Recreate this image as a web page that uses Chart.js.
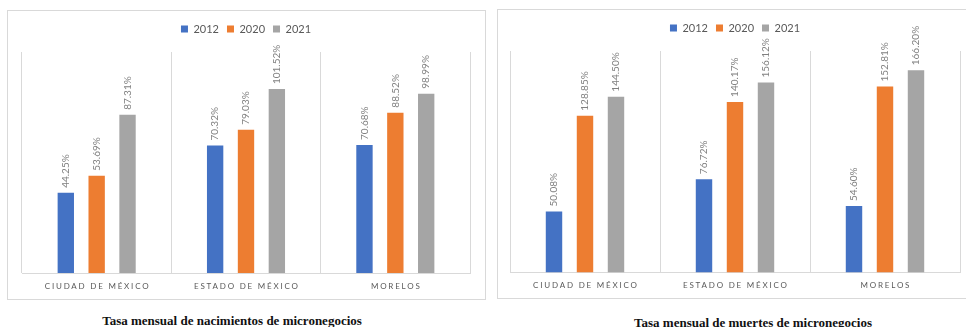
<!DOCTYPE html>
<html>
<head>
<meta charset="utf-8">
<script src="https://cdn.jsdelivr.net/npm/chart.js@4/dist/chart.umd.min.js"></script>
<style>
    html, body { margin: 0; padding: 0; background: #ffffff; }
    body { width: 966px; height: 327px; position: relative; overflow: hidden; }
    .box {
        position: absolute;
        box-sizing: border-box;
        width: 479px;
        height: 290px;
        border: 1px solid #d9d9d9;
    }
    .box canvas { display: block; }
    .caption {
        position: absolute;
        font-family: "Liberation Serif", "Times New Roman", serif;
        font-weight: bold;
        font-size: 13px;
        color: #111111;
        white-space: nowrap;
        transform: translate(-50%, -50%);
    }
</style>
</head>
<body>
<div class="box" id="boxBirths" style="left:7px; top:10px;"><canvas id="births" width="477" height="288"></canvas></div>
<div class="box" id="boxDeaths" style="left:497px; top:9px;"><canvas id="deaths" width="477" height="288"></canvas></div>
<div class="caption" style="left:232px; top:321px;">Tasa mensual de nacimientos de micronegocios</div>
<div class="caption" style="left:753px; top:323px;">Tasa mensual de muertes de micronegocios</div>

<script>
// Valeurs (en %)
const categories = ["CIUDAD DE MÉXICO", "ESTADO DE MÉXICO", "MORELOS"];
const years = ["2012", "2020", "2021"];
const yearColors = ["#4472c4", "#ed7d31", "#a5a5a5"];

const births2012 = [44.25, 70.32, 70.68];
const births2020 = [53.69, 79.03, 88.52];
const births2021 = [87.31, 101.52, 98.99];

const deaths2012 = [50.08, 76.72, 54.60];
const deaths2020 = [128.85, 140.17, 152.81];
const deaths2021 = [144.50, 156.12, 166.20];

// étiquettes verticales au-dessus de chaque barre
const valueLabels = {
    id: "valueLabels",
    afterDatasetsDraw(chart) {
        const ctx = chart.ctx;
        ctx.save();
        ctx.font = "10px Lato";
        ctx.fillStyle = "#808080";
        ctx.textAlign = "left";
        ctx.textBaseline = "middle";
        chart.data.datasets.forEach((ds, i) => {
            chart.getDatasetMeta(i).data.forEach((bar, j) => {
                ctx.save();
                ctx.translate(bar.x, bar.y - 5);
                ctx.rotate(-Math.PI / 2);
                ctx.fillText(ds.data[j].toFixed(2) + "%", 0, 0);
                ctx.restore();
            });
        });
        ctx.restore();
    },
};

// noms des catégories, espacés comme dans Excel
const categoryLabels = {
    id: "categoryLabels",
    afterDraw(chart) {
        const ctx = chart.ctx;
        const xScale = chart.scales.x;
        const spacing = 1.8;
        ctx.save();
        ctx.font = "8px Lato";
        ctx.fillStyle = "#595959";
        ctx.letterSpacing = spacing + "px";
        ctx.textAlign = "center";
        ctx.textBaseline = "middle";
        chart.data.labels.forEach((label, j) => {
            const x = xScale.getPixelForValue(j) + spacing / 2;
            ctx.fillText(label, x, chart.chartArea.bottom + 13);
        });
        ctx.restore();
    },
};

function buildChart(canvasId, series, yMax, padding) {
    return new Chart(document.getElementById(canvasId), {
        type: "bar",
        data: {
            labels: categories,
            datasets: years.map((year, i) => ({
                label: year,
                data: series[i],
                backgroundColor: yearColors[i],
                borderWidth: 0,
                categoryPercentage: 0.62,
                barPercentage: 0.53,
            })),
        },
        options: {
            responsive: false,
            animation: false,
            layout: { padding: padding },
            scales: {
                x: {
                    grid: { display: true, offset: true, color: "#d9d9d9", drawTicks: false },
                    border: { display: true, color: "#d9d9d9" },
                    ticks: { display: false },
                },
                y: { display: false, min: 0, max: yMax },
            },
            plugins: {
                legend: {
                    position: "top",
                    labels: {
                        boxWidth: 7,
                        boxHeight: 7,
                        padding: 8,
                        color: "#595959",
                        font: { family: "Lato", size: 11 },
                    },
                },
                // titre vide : sert seulement d'espace sous la légende
                title: {
                    display: true,
                    text: "",
                    weight: 500,
                    padding: { top: 0, bottom: 6.5 },
                    font: { size: 1, lineHeight: 1 },
                },
                tooltip: { enabled: false },
            },
        },
        plugins: [valueLabels, categoryLabels],
    });
}

buildChart("births", [births2012, births2020, births2021], 122, { top: 4.5, left: 14, right: 15, bottom: 26 });
buildChart("deaths", [deaths2012, deaths2020, deaths2021], 182, { top: 4.5, left: 12, right: 15, bottom: 25.5 });
</script>
</body>
</html>
